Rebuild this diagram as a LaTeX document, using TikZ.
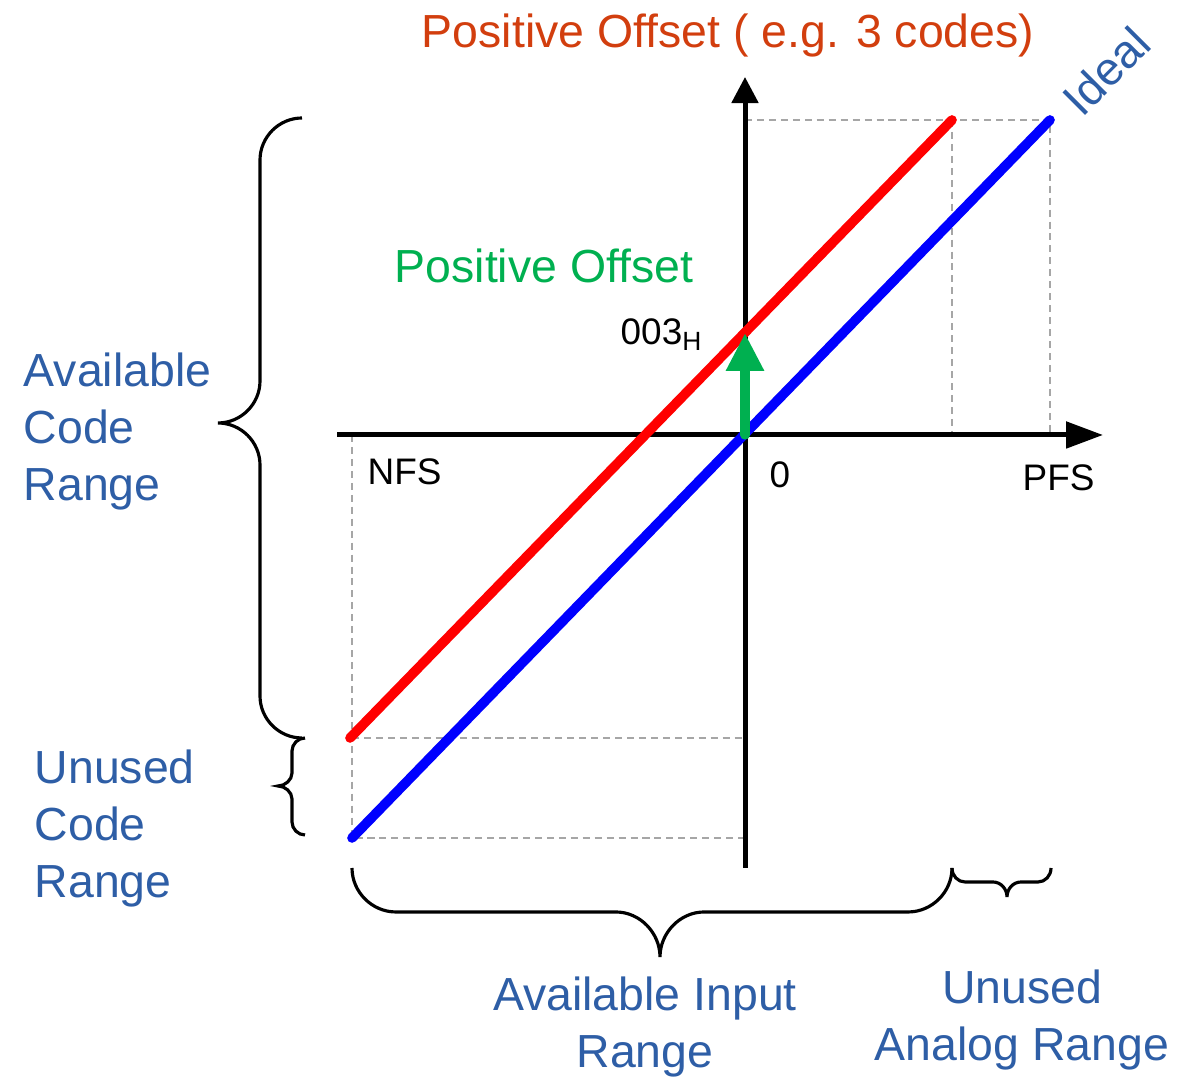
\documentclass[tikz,border=0pt]{standalone}
\usepackage{fontspec}
\setmainfont{Liberation Sans}
\usetikzlibrary{arrows.meta}
\definecolor{labelblue}{RGB}{46,94,166}
\definecolor{titlered}{RGB}{210,62,14}
\definecolor{offsetgreen}{RGB}{0,176,80}
\begin{document}
\begin{tikzpicture}[x=0.01cm,y=-0.01cm,
    axis/.style={line width=1.42pt,black},
    guide/.style={line width=0.4pt,gray!70,dash pattern=on 2pt off 1.4pt},
    ideal/.style={line width=2.75pt,line cap=round,blue},
    offset/.style={line width=2.75pt,line cap=round,red},
    offsetarrow/.style={line width=2.65pt,line cap=round,offsetgreen},
    brace/.style={line width=0.9pt,black},
    big/.style={inner sep=0pt,font=\fontsize{13.2}{16.2}\selectfont},
    lbl/.style={big,text=labelblue},
    tick/.style={inner sep=0pt,font=\fontsize{10.5}{12}\selectfont}
]
\useasboundingbox (0,0) rectangle (1178,1077);

\coordinate (O) at (745,435);
\coordinate (xl) at (337,435);
\coordinate (xr) at (1103,435);
\coordinate (yb) at (745,868);
\coordinate (yt) at (745,77);
\coordinate (nfs) at (352,435);
\coordinate (pfs) at (1050,435);
\coordinate (rtop) at (952,120);
\coordinate (rbot) at (350,738);
\coordinate (btop) at (1050,120);
\coordinate (bbot) at (352,838);
\coordinate (p3) at (745,333);

% guides
\draw[guide] (O |- btop) -- (btop) -- (pfs);
\draw[guide] (rtop) -- (rtop |- O);
\draw[guide] (nfs) -- (bbot) -- (O |- bbot);
\draw[guide] (nfs |- rbot) -- (O |- rbot);

% axes
\draw[axis,-{Triangle[length=10.5pt,width=7.4pt]}] (xl) -- (xr);
\draw[axis,-{Triangle[length=7.4pt,width=7.4pt]}] (yb) -- (yt);

% transfer lines
\draw[ideal] (bbot) -- (btop);
\draw[offset] (rbot) -- (rtop);
\draw[offsetarrow,-{Triangle[length=10.8pt,width=10.2pt]}] (O) -- (p3);

% braces
\draw[brace] (302,118) .. controls (279,118) and (260,137) .. (260,160) -- (260,381)
  .. controls (260,404) and (241,423) .. (218,423)
  .. controls (241,423) and (260,442) .. (260,465) -- (260,696)
  .. controls (260,719) and (279,738) .. (302,738);
\draw[brace] (305,738) .. controls (298,738) and (292,744) .. (292,751) -- (292,773)
  .. controls (292,780) and (285,786) .. (278,786)
  .. controls (285,786) and (292,792) .. (292,799) -- (292,822)
  .. controls (292,829) and (298,835) .. (305,835);
\draw[brace] (352,868) .. controls (352,892) and (372,912) .. (396,912) -- (616,912)
  .. controls (640,912) and (660,933) .. (660,957)
  .. controls (660,933) and (680,912) .. (704,912) -- (908,912)
  .. controls (932,912) and (952,892) .. (952,868);
\draw[brace] (952,868) .. controls (952,876) and (958,882) .. (965,882) -- (993,882)
  .. controls (1001,882) and (1007,889) .. (1007,897)
  .. controls (1007,889) and (1013,882) .. (1021,882) -- (1038,882)
  .. controls (1045,882) and (1051,876) .. (1051,868);

% labels
\node[big,text=titlered,anchor=base] (ttl) at (728,48) {Positive Offset ( e.g. 3 codes)};
\node[lbl,rotate=45] (idl) at (1106,71) {Ideal};
\node[big,text=offsetgreen,anchor=base] (offs) at (544,283) {Positive Offset};
\node[tick,anchor=base west] (code) at (620,345) {003\raisebox{-1.7pt}{\fontsize{7.5}{8}\selectfont H}};
\node[tick,anchor=base west] (nfsl) at (367,485) {NFS};
\node[tick,anchor=base] (zero) at (780,488) {0};
\node[tick,anchor=base west] (pfsl) at (1022,491) {PFS};

\node[lbl,align=left,anchor=north west] (acr) at (23,352) {Available\\Code\\Range};
\node[lbl,align=left,anchor=north west] (ucr) at (34,749) {Unused\\Code\\Range};
\node[lbl,align=center,anchor=north] (air) at (645,976) {Available Input\\Range};
\node[lbl,align=center,anchor=north] (uar) at (1022,969) {Unused\\Analog Range};

\end{tikzpicture}
\end{document}
